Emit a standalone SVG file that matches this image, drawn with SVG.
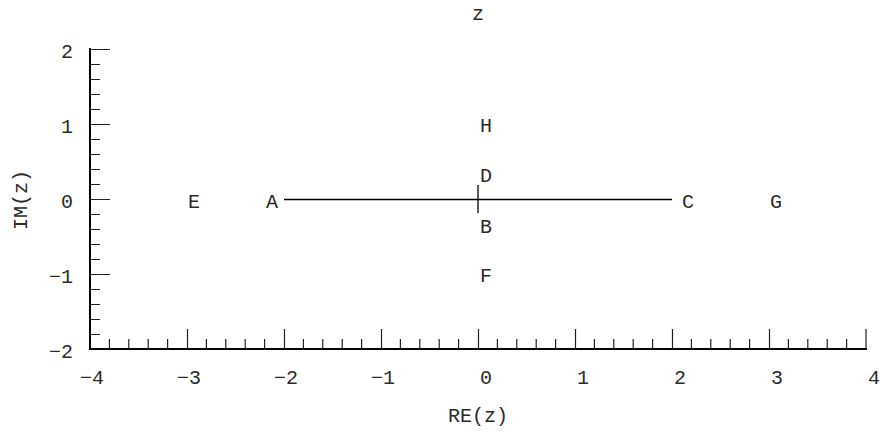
<svg xmlns="http://www.w3.org/2000/svg" width="884" height="432" viewBox="0 0 884 432">
<style>
text{font-family:"Liberation Mono","Courier New",monospace;font-size:20px;fill:#2a2a2a}
.axis{stroke:#000;stroke-width:2;fill:none}
.tk{stroke:#222;stroke-width:1.2;fill:none}
.ln{stroke:#000;stroke-width:1.3;fill:none}
.ym{text-anchor:end}
.xe{text-anchor:end}
.xm{text-anchor:middle}
</style>
<rect width="884" height="432" fill="#fff"/>
<g id="title"><text x="478" y="20" class="xm">z</text></g>
<g id="axes">
<path class="axis" d="M90,48 V349 H867"/>
<path class="tk" d="M90,49.5 H110 M90,124.5 H110 M90,199.5 H110 M90,274.5 H110
M90,64.5 H100 M90,79.5 H100 M90,94.5 H100 M90,109.5 H100
M90,139.5 H100 M90,154.5 H100 M90,169.5 H100 M90,184.5 H100
M90,214.5 H100 M90,229.5 H100 M90,244.5 H100 M90,259.5 H100
M90,289.5 H100 M90,304.5 H100 M90,319.5 H100 M90,334.5 H100"/>
<path class="tk" d="M187.5,349 V329 M284.5,349 V329 M381.5,349 V329 M478.5,349 V329 M575.5,349 V329 M672.5,349 V329 M769.5,349 V329 M866,349 V329
M109.4,349 V339 M128.8,349 V339 M148.2,349 V339 M167.6,349 V339
M206.4,349 V339 M225.8,349 V339 M245.2,349 V339 M264.6,349 V339
M303.4,349 V339 M322.8,349 V339 M342.2,349 V339 M361.6,349 V339
M400.4,349 V339 M419.8,349 V339 M439.2,349 V339 M458.6,349 V339
M497.4,349 V339 M516.8,349 V339 M536.2,349 V339 M555.6,349 V339
M594.4,349 V339 M613.8,349 V339 M633.2,349 V339 M652.6,349 V339
M691.4,349 V339 M710.8,349 V339 M730.2,349 V339 M749.6,349 V339
M788.4,349 V339 M807.8,349 V339 M827.2,349 V339 M846.6,349 V339"/>
<g class="ym">
<text x="73" y="58">2</text>
<text x="73" y="133">1</text>
<text x="73" y="208">0</text>
<text x="73" y="283">−1</text>
<text x="73" y="358">−2</text>
</g>
<g class="xe">
<text x="104" y="384">−4</text>
<text x="201" y="384">−3</text>
<text x="298" y="384">−2</text>
<text x="395" y="384">−1</text>
<text x="492" y="384">0</text>
<text x="589" y="384">1</text>
<text x="686" y="384">2</text>
<text x="783" y="384">3</text>
<text x="880" y="384">4</text>
</g>
<text class="xm" x="478" y="422">RE(z)</text>
<text class="xm" transform="translate(27,200) rotate(-90)">IM(z)</text>
</g>
<g id="connectors">
<path class="ln" d="M284,199.5 H672"/>
<path class="ln" d="M478,185 V213"/>
</g>
<g id="E"><text x="188" y="208">E</text></g>
<g id="A"><text x="266" y="208">A</text></g>
<g id="C"><text x="682" y="208">C</text></g>
<g id="G"><text x="770" y="208">G</text></g>
<g id="H"><text x="480" y="132">H</text></g>
<g id="D"><text x="480" y="182">D</text></g>
<g id="B"><text x="480" y="233">B</text></g>
<g id="F"><text x="480" y="282">F</text></g>
</svg>
